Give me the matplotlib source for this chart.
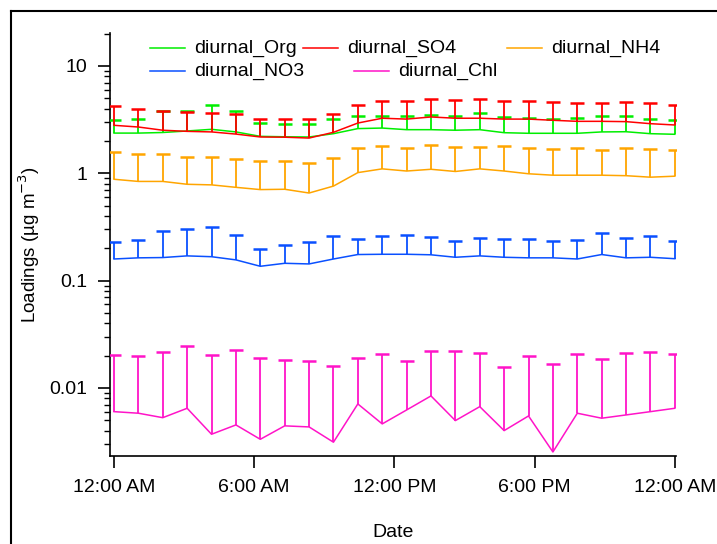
import matplotlib
matplotlib.use("Agg")
import matplotlib.pyplot as plt
from matplotlib.lines import Line2D
from matplotlib.ticker import LogLocator, NullFormatter, FixedLocator
import numpy as np

plt.rcParams['font.family'] = ['Liberation Sans', 'DejaVu Sans']

# 24 hourly diurnal means, spread over one day on the time axis
hours = np.linspace(0, 24, 24)

org = [2.37, 2.37, 2.40, 2.48, 2.57, 2.43, 2.21, 2.19, 2.18, 2.34, 2.61, 2.64,
       2.55, 2.55, 2.52, 2.55, 2.39, 2.36, 2.36, 2.36, 2.43, 2.44, 2.34, 2.31]
org_sd = [0.75, 0.82, 1.38, 1.33, 1.80, 1.40, 0.76, 0.69, 0.70, 0.85, 0.81, 0.78,
          0.87, 0.94, 0.90, 1.10, 0.96, 0.92, 0.84, 0.92, 0.99, 0.98, 0.86, 0.83]

so4 = [2.80, 2.70, 2.52, 2.46, 2.43, 2.32, 2.18, 2.17, 2.13, 2.41, 2.94, 3.26,
       3.20, 3.35, 3.26, 3.26, 3.20, 3.20, 3.12, 3.05, 3.05, 3.03, 2.90, 2.82]
so4_sd = [1.41, 1.27, 1.26, 1.24, 1.19, 1.23, 1.02, 1.03, 1.06, 1.14, 1.43, 1.50,
          1.49, 1.55, 1.56, 1.67, 1.52, 1.52, 1.50, 1.47, 1.47, 1.59, 1.62, 1.51]

nh4 = [0.88, 0.84, 0.84, 0.79, 0.78, 0.74, 0.705, 0.71, 0.655, 0.76, 1.015, 1.10,
       1.05, 1.09, 1.04, 1.10, 1.05, 0.99, 0.96, 0.96, 0.96, 0.95, 0.92, 0.94]
nh4_sd = [0.70, 0.67, 0.67, 0.64, 0.65, 0.63, 0.585, 0.58, 0.585, 0.64, 0.705, 0.71,
          0.67, 0.75, 0.72, 0.66, 0.74, 0.72, 0.72, 0.75, 0.68, 0.76, 0.76, 0.70]

no3 = [0.159, 0.163, 0.164, 0.170, 0.167, 0.156, 0.136, 0.145, 0.143, 0.159, 0.175, 0.176,
       0.176, 0.174, 0.165, 0.170, 0.165, 0.163, 0.163, 0.159, 0.175, 0.163, 0.165, 0.160]
no3_sd = [0.070, 0.078, 0.124, 0.131, 0.152, 0.108, 0.063, 0.072, 0.086, 0.100, 0.070, 0.083,
          0.088, 0.079, 0.069, 0.080, 0.080, 0.082, 0.071, 0.082, 0.101, 0.085, 0.094, 0.076]

chl = [0.00601, 0.00581, 0.00528, 0.00646, 0.00370, 0.00452, 0.00332, 0.00443,
       0.00433, 0.00312, 0.00709, 0.00462, 0.00623, 0.00842, 0.00496, 0.00669,
       0.00400, 0.00548, 0.00253, 0.00581, 0.00522, 0.00560, 0.00601, 0.00646]
chl_sd = [0.0143, 0.0141, 0.0165, 0.0181, 0.0166, 0.0181, 0.0155, 0.0138,
          0.0134, 0.0130, 0.0121, 0.0161, 0.0114, 0.0137, 0.0171, 0.0145,
          0.0115, 0.0144, 0.0142, 0.0149, 0.0134, 0.0156, 0.0157, 0.0142]

tick_hours = [0, 6, 12, 18, 24]
tick_labels = ['12:00 AM', '6:00 AM', '12:00 PM', '6:00 PM', '12:00 AM']

series = [
    ('diurnal_Org', org, org_sd, '#00EE00'),
    ('diurnal_SO4', so4, so4_sd, '#FF0000'),
    ('diurnal_NH4', nh4, nh4_sd, '#FFA500'),
    ('diurnal_NO3', no3, no3_sd, '#0A50FF'),
    ('diurnal_Chl', chl, chl_sd, '#FF14C8'),
]

W, H = 717, 544
fig = plt.figure(figsize=(W / 100, H / 100), dpi=100)
ax = fig.add_axes([110 / W, 1 - 456 / H, 566 / W, 423 / H])

for name, mean, sd, col in series:
    mean = np.array(mean)
    top = mean + np.array(sd)
    ax.plot(hours, mean, color=col, lw=1.1, zorder=3)
    # one-sided (upper) error bars with a cap
    ax.vlines(hours, mean, top, color=col, lw=1.3, zorder=3)
    ax.plot(hours, top, ls='none', marker='_', ms=10, mew=1.8, color=col, zorder=3)

ax.set_yscale('log')
ax.set_ylim(0.00232, 20.3)
ax.set_xlim(-0.171, 24.05)

ax.xaxis.set_major_locator(FixedLocator(tick_hours))
ax.set_xticklabels(tick_labels)
ax.yaxis.set_minor_locator(LogLocator(base=10, subs=np.arange(2, 10), numticks=20))
ax.yaxis.set_minor_formatter(NullFormatter())
ax.set_yticks([0.01, 0.1, 1, 10])
ax.set_yticklabels(['0.01', '0.1', '1', '10'])

for s in ['top', 'right']:
    ax.spines[s].set_visible(False)
for s in ['left', 'bottom']:
    ax.spines[s].set_linewidth(1.2)

ax.tick_params(axis='both', which='major', direction='out', length=8.6, width=1.2,
               labelsize=14, pad=8)
ax.tick_params(axis='y', which='minor', direction='out', length=4.3, width=1.0)
ax.tick_params(axis='x', which='minor', length=0)

ax.set_xlabel('Date', fontsize=14, labelpad=20)
ax.set_ylabel('Loadings (µg m$^{-3}$)', fontsize=13.5, labelpad=5)


# hand-placed legend, two rows on tab stops
def px(x, y):
    return x / W, 1 - y / H


legend_rows = [
    (48, [(150, 0), (303, 1), (507, 2)]),
    (71, [(150, 3), (354, 4)]),
]
for y, entries in legend_rows:
    for x0, k in entries:
        name, _, _, col = series[k]
        (x_a, y_a), (x_b, _) = px(x0, y), px(x0 + 35, y)
        fig.add_artist(Line2D([x_a, x_b], [y_a, y_a], color=col, lw=1.1,
                              transform=fig.transFigure))
        tx, ty = px(x0 + 44, y)
        fig.text(tx, ty, name, fontsize=14, va='center', ha='left')

# outer frame
fig.add_artist(Line2D([11 / W, 1], [1 - 11 / H, 1 - 11 / H], color='black', lw=1.5,
                      transform=fig.transFigure))
fig.add_artist(Line2D([11 / W, 11 / W], [0, 1 - 11 / H], color='black', lw=1.5,
                      transform=fig.transFigure))

fig.savefig('out.png', dpi=100)
